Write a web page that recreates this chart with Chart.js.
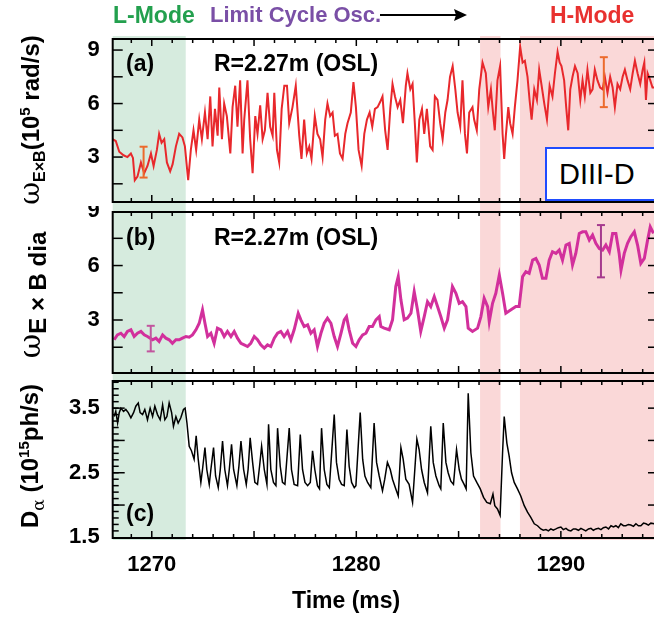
<!DOCTYPE html>
<html><head><meta charset="utf-8">
<script src="https://cdn.jsdelivr.net/npm/chart.js@4.4.1/dist/chart.umd.min.js"></script>
<style>
html,body{margin:0;padding:0;width:654px;height:617px;overflow:hidden;background:#fff;font-family:"Liberation Sans",Arial,sans-serif;}
canvas{position:absolute;left:0;}
.t{position:absolute;white-space:nowrap;font-weight:bold;z-index:5;line-height:1;}
.yt{position:absolute;white-space:nowrap;font-weight:bold;transform:rotate(-90deg);transform-origin:center center;text-align:center;z-index:5;font-size:24px;line-height:30px;height:30px;width:240px;}
.yt sub,.yt sup{line-height:0;}
.om{font-family:"DejaVu Serif",serif;font-weight:normal;}
#diii{position:absolute;left:545px;top:147px;width:130px;height:50px;border:2px solid #1f4cff;background:#fff;z-index:5;font-size:29px;line-height:50px;padding-left:12px;box-sizing:content-box;}
</style></head><body>
<canvas id="ca" width="662" height="206" style="top:0"></canvas>
<canvas id="cb" width="662" height="171" style="top:206px"></canvas>
<canvas id="cc" width="662" height="240" style="top:377px"></canvas>

<div class="t" style="left:113px;top:4px;font-size:23px;color:#23a04e">L-Mode</div>
<div class="t" style="left:210px;top:4px;font-size:22px;color:#7a4fa6">Limit Cycle Osc.</div>
<svg style="position:absolute;left:380px;top:6px;z-index:5" width="92" height="18"><line x1="0" y1="9" x2="78" y2="9" stroke="#000" stroke-width="2"/><polygon points="87,9 74,3 76,9 74,15" fill="#000"/></svg>
<div class="t" style="left:550px;top:4px;font-size:23px;color:#e8312f">H-Mode</div>

<div class="t" style="left:126px;top:52px;font-size:23px">(a)</div>
<div class="t" style="left:214px;top:52px;font-size:23px">R=2.27m (OSL)</div>
<div class="t" style="left:126px;top:226px;font-size:23px">(b)</div>
<div class="t" style="left:214px;top:226px;font-size:23px">R=2.27m (OSL)</div>
<div class="t" style="left:126px;top:502px;font-size:23px">(c)</div>
<div class="t" style="left:292px;top:589px;font-size:23px">Time (ms)</div>
<div id="diii">DIII-D</div>

<div class="yt" style="left:-90px;top:105px"><span class="om" style="font-size:28px">ω</span><sub style="font-size:16px">E×B</sub>(10<sup style="font-size:15px">5</sup> rad/s)</div>
<div class="yt" style="left:-90px;top:280px"><span class="om" style="font-size:30px">ω</span><sub style="font-size:24px">E × B dia</sub></div>
<div class="yt" style="left:-90px;top:441px">D<sub class="om" style="font-size:17px">α</sub> (10<sup style="font-size:15px">15</sup>ph/s)</div>

<script>
// ---------- data ----------
const timeA = [1268.08,1268.24,1268.41,1268.62,1268.81,1268.98,1269.08,1269.17,1269.30,1269.47,1269.63,1269.79,1269.96,1270.09,1270.25,1270.36,1270.48,1270.61,1270.74,1270.90,1271.02,1271.18,1271.34,1271.50,1271.62,1271.78,1271.91,1272.04,1272.17,1272.32,1272.45,1272.60,1272.73,1272.86,1272.97,1273.09,1273.22,1273.30,1273.43,1273.54,1273.67,1273.84,1273.95,1274.08,1274.19,1274.32,1274.44,1274.52,1274.68,1274.81,1274.93,1275.06,1275.17,1275.30,1275.42,1275.53,1275.66,1275.79,1275.91,1275.99,1276.12,1276.23,1276.35,1276.48,1276.61,1276.72,1276.88,
1277.04,1277.21,1277.32,1277.45,1277.58,1277.70,1277.81,1277.97,1278.10,1278.23,1278.35,1278.48,1278.59,1278.72,1278.84,1278.95,1279.08,1279.20,1279.33,1279.46,1279.57,1279.73,1279.86,1279.98,1280.11,1280.26,1280.39,1280.52,1280.65,1280.78,1280.91,1281.04,1281.17,1281.28,1281.41,1281.53,1281.66,1281.77,1281.89,1282.02,1282.15,1282.28,1282.42,1282.50,1282.64,1282.75,1282.86,1282.96,1283.08,1283.21,1283.32,1283.45,1283.61,1283.73,1283.84,1283.97,1284.10,1284.22,1284.35,1284.46,1284.58,1284.71,1284.84,1284.95,1285.08,1285.19,1285.31,1285.41,1285.52,1285.68,
1285.76,1285.89,1286.01,1286.17,1286.33,1286.45,1286.58,1286.68,1286.77,1286.90,1287.03,1287.15,1287.23,1287.31,1287.43,1287.52,1287.64,1287.75,1287.88,1288.01,1288.13,1288.24,1288.37,1288.47,1288.57,1288.70,1288.83,1288.94,1289.06,1289.19,1289.32,1289.45,1289.59,1289.71,1289.84,1289.94,1290.03,1290.16,1290.26,1290.36,1290.46,1290.57,1290.69,1290.82,1290.95,1291.06,1291.17,1291.30,1291.44,1291.55,1291.66,1291.79,1291.92,1292.04,1292.15,1292.28,1292.41,1292.53,1292.64,1292.77,1292.90,1293.02,1293.13,1293.26,1293.39,1293.51,1293.62,1293.75,1293.88,1294.00,1294.08,1294.16,1294.24,1294.37,1294.48,1294.60];
const omegaA = [4.0,3.9,3.3,3.1,3.0,3.2,2.95,1.7,1.9,2.7,2.1,2.5,3.2,2.5,3.4,4.3,3.8,4.0,2.7,2.2,2.6,3.6,4.3,4.1,3.6,1.7,3.4,4.5,3.4,5.1,4.0,5.5,4.0,6.4,3.6,5.7,4.2,6.9,4.0,6.0,5.3,3.2,5.8,7.0,4.7,7.3,3.2,5.1,7.3,4.0,2.1,5.3,4.3,5.9,4.0,4.5,6.6,4.7,4.2,6.6,3.4,2.7,5.7,7.0,7.0,4.9,5.8,
7.0,4.2,2.9,5.1,3.2,3.6,2.9,5.3,4.3,4.0,3.0,5.1,6.0,5.3,5.5,4.2,4.3,3.2,2.9,4.3,4.9,5.5,7.2,5.8,3.4,2.5,4.3,5.1,5.5,4.7,5.7,5.8,6.1,6.4,4.5,3.4,5.7,7.1,6.4,5.8,6.2,4.9,7.0,7.7,6.8,7.1,4.9,2.7,5.1,5.7,4.3,5.7,3.6,3.4,6.4,6.2,4.9,4.0,5.5,6.2,7.5,8.1,6.8,5.5,4.7,7.3,4.3,3.2,5.5,5.8,
5.1,4.5,6.8,8.3,7.7,5.8,6.8,5.5,4.5,7.3,8.1,4.3,2.9,4.2,5.8,4.9,4.3,5.8,7.3,9.2,8.3,8.4,7.5,6.2,5.1,6.8,6.2,7.9,7.0,6.0,5.1,7.0,6.4,7.7,8.9,8.3,8.1,7.3,5.8,4.5,6.8,7.5,8.1,7.7,6.2,7.3,6.4,7.9,6.6,6.8,7.9,7.3,6.9,6.8,7.5,6.6,7.5,6.9,5.8,7.1,6.8,7.5,7.9,7.3,6.8,7.7,8.4,7.7,7.1,7.9,8.3,6.2,7.7,7.3,6.9,6.9];

const timeB = [1268.16,1268.32,1268.49,1268.65,1268.81,1268.98,1269.14,1269.30,1269.47,1269.63,1269.79,1270.04,1270.20,1270.36,1270.53,1270.69,1270.85,1271.01,1271.18,1271.34,1271.50,1271.67,1271.83,1271.99,1272.16,1272.32,1272.48,1272.60,1272.73,1272.89,1273.05,1273.21,1273.38,1273.54,1273.70,1273.87,1274.03,1274.19,1274.36,1274.52,1274.68,1274.84,1275.01,1275.17,1275.33,1275.50,1275.66,1275.82,1275.99,1276.15,1276.31,1276.47,1276.64,1276.80,1276.96,1277.16,1277.29,1277.45,1277.62,1277.78,1277.94,1278.10,1278.27,1278.43,1278.59,1278.76,1278.92,1279.08,1279.25,1279.41,1279.52,1279.65,1279.82,1279.98,1280.14,1280.31,1280.47,1280.63,1280.79,1280.96,1281.12,
1281.20,1281.36,1281.61,1281.77,1281.93,1282.05,1282.18,1282.34,1282.50,1282.67,1282.83,1282.99,1283.15,1283.32,1283.48,1283.64,1283.81,1283.97,1284.13,1284.30,1284.46,1284.70,1284.87,1285.03,1285.19,1285.36,1285.47,1285.68,1285.93,1286.09,1286.25,1286.42,1286.50,1286.66,1286.82,1286.99,1287.15,1287.31,1287.56,1287.80,1287.96,1288.13,1288.29,1288.45,1288.62,1288.78,1288.94,1289.10,1289.27,1289.43,1289.59,1289.76,1289.92,1290.08,1290.25,1290.41,1290.57,1290.73,1290.90,1291.06,1291.22,1291.39,1291.55,1291.71,1291.88,1292.04,1292.20,1292.37,1292.53,1292.69,1292.85,1292.94,1293.10,1293.26,1293.42,1293.59,1293.75,1293.91,1294.08,1294.24,1294.37,1294.53];
const omegaB = [1.91,2.18,2.27,2.09,2.37,2.46,2.09,2.27,2.37,2.18,2.09,1.91,2.00,1.82,2.18,2.00,1.91,1.72,1.91,1.91,2.00,2.09,2.05,2.18,2.46,2.82,3.56,2.82,2.09,2.27,1.72,2.55,2.46,2.09,2.37,2.09,2.37,2.00,1.72,1.63,1.54,1.72,2.09,1.91,1.63,1.45,1.63,1.54,2.00,2.27,2.37,2.09,2.37,1.91,2.46,3.37,3.01,2.64,2.73,2.27,2.46,1.54,2.27,2.82,3.10,2.82,2.09,1.54,2.27,3.01,3.19,2.46,1.72,1.54,1.91,2.18,2.27,2.64,2.64,3.01,3.19,
2.64,2.55,2.46,3.01,4.84,5.39,4.11,3.01,3.10,3.37,4.56,3.56,2.37,3.19,4.01,3.74,4.29,3.74,3.19,2.55,3.01,4.84,4.47,3.92,4.01,3.74,2.55,2.37,2.55,3.19,4.20,3.74,2.91,3.92,4.47,5.48,4.47,3.37,3.56,3.74,3.74,5.39,5.66,5.57,6.30,6.39,6.03,5.30,5.30,6.30,6.76,6.67,6.85,6.30,7.13,7.22,6.03,6.67,7.77,7.86,7.86,7.40,7.68,7.22,6.94,6.85,7.13,6.76,7.77,7.77,6.67,5.75,6.67,7.22,7.59,7.86,7.13,6.12,6.39,7.40,8.13,7.77];

const timeC = [1268.16,1268.24,1268.33,1268.41,1268.49,1268.62,1268.73,1268.85,1268.98,1269.11,1269.22,1269.34,1269.43,1269.55,1269.66,1269.79,1269.92,1270.04,1270.15,1270.28,1270.41,1270.53,1270.64,1270.74,1270.85,1270.97,1271.06,1271.18,1271.29,1271.42,1271.55,1271.63,1271.72,1271.83,1271.94,1272.07,1272.17,1272.27,1272.40,1272.48,1272.60,1272.69,1272.81,1272.89,1273.02,1273.12,1273.25,1273.35,1273.46,1273.57,1273.70,1273.79,1273.90,1274.00,1274.16,1274.26,1274.36,1274.49,1274.62,1274.71,1274.81,1274.93,1275.04,1275.17,1275.27,1275.37,1275.50,1275.63,1275.71,1275.82,1275.95,1276.07,1276.15,1276.28,1276.39,1276.51,1276.72,1276.83,1276.96,1277.13,1277.26,1277.37,1277.49,1277.62,1277.75,1277.86,1277.97,1278.10,1278.20,1278.30,1278.43,1278.56,1278.68,1278.92,1279.03,1279.16,1279.28,1279.41,1279.54,1279.65,1279.77,1279.90,1279.98,1280.19,1280.31,1280.42,1280.55,1280.71,
1280.87,1280.99,1281.12,1281.28,1281.39,1281.52,1281.66,1281.77,1281.93,1282.05,1282.18,1282.29,1282.42,1282.58,1282.75,1282.86,1282.96,1283.07,1283.19,1283.32,1283.48,1283.64,1283.76,1283.89,1284.05,1284.13,1284.25,1284.38,1284.49,1284.62,1284.75,1284.90,1285.03,1285.14,1285.27,1285.37,1285.47,1285.60,1285.73,1285.89,1286.06,1286.22,1286.38,1286.55,1286.68,1286.77,1286.90,1287.03,1287.15,1287.23,1287.36,1287.47,1287.59,1287.72,1287.88,1288.04,1288.21,1288.37,1288.53,1288.70,1288.86,1289.02,1289.14,1289.27,1289.39,1289.51,1289.63,1289.76,1289.88,1290.00,1290.12,1290.25,1290.37,1290.49,1290.61,1290.73,1290.86,1290.98,1291.10,1291.22,1291.35,1291.47,1291.59,1291.71,1291.84,1291.96,1292.08,1292.20,1292.33,1292.45,1292.57,1292.69,1292.81,1292.93,1293.06,1293.18,1293.30,1293.42,1293.55,1293.67,1293.79,1293.91,1294.04,1294.16,1294.28,1294.40,1294.56];
const dAlpha = [3.37,3.45,3.27,3.43,3.50,3.45,3.48,3.43,3.35,3.43,3.53,3.58,3.43,3.40,3.48,3.32,3.50,3.37,3.53,3.40,3.32,3.55,3.32,3.37,3.58,3.43,3.22,3.37,3.27,3.35,3.48,3.50,3.27,2.91,2.84,2.71,3.07,2.71,2.35,2.55,2.89,2.55,2.32,2.55,2.89,2.45,2.27,2.55,2.99,2.55,2.30,2.55,2.94,2.55,2.30,2.60,2.99,2.55,2.32,2.55,3.04,2.66,2.35,2.32,2.60,2.91,2.55,2.32,3.25,2.55,2.35,2.30,3.19,2.60,2.35,2.32,3.19,2.55,2.32,2.30,3.09,2.55,2.35,2.30,2.35,2.84,2.55,2.30,2.25,3.19,2.55,2.32,2.27,3.40,2.66,2.40,2.32,2.30,3.17,2.60,2.35,2.27,2.30,3.43,2.71,2.45,2.35,2.27,
3.27,2.66,2.45,2.22,2.40,2.66,2.55,2.40,2.25,2.14,2.89,2.71,2.40,2.32,2.04,2.55,3.02,2.86,2.55,2.35,2.19,3.22,2.66,2.45,2.30,2.25,3.27,2.66,2.50,2.37,2.32,2.86,2.55,2.40,2.32,2.25,3.73,2.81,2.45,2.35,2.25,2.12,2.04,2.02,2.17,1.99,1.94,1.84,2.81,3.37,2.96,2.76,2.50,2.35,2.25,2.14,1.99,1.89,1.81,1.71,1.68,1.63,1.61,1.62,1.60,1.63,1.61,1.63,1.65,1.66,1.62,1.64,1.61,1.60,1.63,1.63,1.61,1.64,1.62,1.60,1.63,1.64,1.61,1.63,1.64,1.62,1.65,1.66,1.63,1.68,1.66,1.68,1.65,1.71,1.68,1.68,1.70,1.69,1.67,1.71,1.68,1.68,1.72,1.71,1.69,1.72,1.71];

// error bars (time, low, high)
const errA = {t:[1269.6,1292.1], lo:[1.85,5.8], hi:[3.58,8.6]};
const errB = {t:[1269.95,1291.96], lo:[1.27,5.35], hi:[2.68,8.23]};

// phase boundaries (ms)
const lModeEnd = 1271.66, lcoHStart = 1286.05, lcoHEnd = 1287.05, hModeStart = 1288.0;
const xLabels = [1270,1280,1290];
const yLabelsAB = [3,6,9];
const yLabelsC = [1.5,2.5,3.5];

// ---------- layout ----------
const X_MIN = 1268.09, X_MAX = 1294.70;
const GREEN = 'rgb(214,235,222)', PINK = 'rgb(250,216,216)';
const bands = [[X_MIN,lModeEnd,GREEN],[lcoHStart,lcoHEnd,PINK],[hModeStart,X_MAX,PINK]];
Chart.defaults.font.family = '"Liberation Sans", Arial, sans-serif';
Chart.defaults.color = '#000';

function pts(t,v){return t.map((x,i)=>({x:x,y:v[i]}));}

function framePlugin(cfg){
  return {
    id:'frame',
    beforeDraw(chart){
      const {ctx, chartArea:ca, scales:{x}} = chart;
      ctx.save();
      for (const [a,b,col] of bands){
        const x0 = Math.max(ca.left, x.getPixelForValue(a));
        const x1 = Math.min(chart.width, x.getPixelForValue(b));
        ctx.fillStyle = col;
        ctx.fillRect(x0, cfg.shadeTop, x1-x0, cfg.shadeBottom-cfg.shadeTop);
      }
      ctx.restore();
    },
    afterDraw(chart){
      const {ctx, chartArea:ca, scales:{x,y}} = chart;
      ctx.save();
      ctx.strokeStyle = '#000'; ctx.lineWidth = 1.5;
      const seg=(x1,y1,x2,y2)=>{ctx.beginPath();ctx.moveTo(x1,y1);ctx.lineTo(x2,y2);ctx.stroke();};
      for (let t=Math.ceil(X_MIN); t<=X_MAX; t++){
        const px = x.getPixelForValue(t);
        const L = (t%5===0)?7:4;
        seg(px,ca.top,px,ca.top+L); seg(px,ca.bottom,px,ca.bottom-L);
      }
      if (cfg.minorStep){
        for (let v=cfg.yMin; v<=cfg.yMax+1e-9; v+=cfg.minorStep){
          const py = y.getPixelForValue(v);
          if (py<ca.top+1||py>ca.bottom-1) continue;
          seg(ca.left,py,ca.left+cfg.minorLen,py);
        }
      }
      for (let v=cfg.yMin; v<=cfg.yMax+1e-9; v+=cfg.majorStep){
        const py = y.getPixelForValue(v);
        if (py<ca.top+1||py>ca.bottom-1) continue;
        seg(ca.left,py,ca.left+cfg.majorLen,py);
        seg(ca.right,py,ca.right-cfg.rightLen,py);
      }
      ctx.lineWidth = 2;
      ctx.strokeRect(ca.left,ca.top,ca.right-ca.left,ca.bottom-ca.top);
      if (cfg.err){
        const e = cfg.err;
        ctx.lineWidth = 2;
        e.t.forEach((t,i)=>{
          ctx.strokeStyle = cfg.errColors[i];
          const px = x.getPixelForValue(t), p0 = y.getPixelForValue(e.lo[i]), p1 = y.getPixelForValue(e.hi[i]);
          seg(px,p0,px,p1); seg(px-4,p0,px+4,p0); seg(px-4,p1,px+4,p1);
        });
      }
      ctx.restore();
    }
  };
}

function yAxis(min,max,labels,dec){
  return {min:min,max:max,position:'left',
    afterFit(s){s.width = 112.7; s.paddingTop = 0; s.paddingBottom = 0;},
    afterBuildTicks(s){s.ticks = labels.map(v=>({value:v}));},
    grid:{display:false,drawTicks:false}, border:{display:false},
    ticks:{font:{size:22,weight:'bold'},color:'#000',padding:13,autoSkip:false,callback:v=>v.toFixed(dec)}};
}
const baseOpts = {responsive:false,animation:false,devicePixelRatio:1,
  plugins:{legend:{display:false},tooltip:{enabled:false}},
  elements:{point:{radius:0},line:{tension:0}}};

new Chart(document.getElementById('ca'),{type:'line',
  data:{datasets:[{data:pts(timeA,omegaA),borderColor:'#e8282c',borderWidth:2}]},
  options:Object.assign({},baseOpts,{layout:{padding:{left:0,right:5,top:39,bottom:4}},
    scales:{x:{type:'linear',min:X_MIN,max:X_MAX,display:false},y:yAxis(0.48,9.62,yLabelsAB,0)}}),
  plugins:[framePlugin({shadeTop:36,shadeBottom:206,yMin:0,yMax:10.5,majorStep:1.5,majorLen:10,rightLen:9,err:errA,errColors:['#ec6a2c','#ec6a2c']})]});

new Chart(document.getElementById('cb'),{type:'line',
  data:{datasets:[{data:pts(timeB,omegaB),borderColor:'#d2309c',borderWidth:3}]},
  options:Object.assign({},baseOpts,{layout:{padding:{left:0,right:5,top:6,bottom:4}},
    scales:{x:{type:'linear',min:X_MIN,max:X_MAX,display:false},y:yAxis(0.08,8.95,yLabelsAB,0)}}),
  plugins:[framePlugin({shadeTop:0,shadeBottom:171,yMin:0,yMax:10.5,majorStep:1.5,majorLen:10,rightLen:9,err:errB,errColors:['#c2559e','#a53a8e']})]});

new Chart(document.getElementById('cc'),{type:'line',
  data:{datasets:[{data:pts(timeC,dAlpha),borderColor:'#000',borderWidth:1.5}]},
  options:Object.assign({},baseOpts,{layout:{padding:{left:0,right:5,top:4,bottom:0}},
    scales:{
      x:{type:'linear',min:X_MIN,max:X_MAX,position:'bottom',
        afterFit(s){s.height = 79; s.paddingLeft = 0; s.paddingRight = 0;},
        afterBuildTicks(s){s.ticks = xLabels.map(v=>({value:v}));},
        grid:{display:false,drawTicks:false},border:{display:false},
        ticks:{font:{size:22,weight:'bold'},color:'#000',padding:14,maxRotation:0,autoSkip:false,callback:v=>String(v)},
        title:{display:false}},
      y:yAxis(1.49,3.92,yLabelsC,1)}}),
  plugins:[framePlugin({shadeTop:0,shadeBottom:163,yMin:1.5,yMax:4.0,majorStep:0.5,majorLen:12,rightLen:9,minorStep:0.1,minorLen:6})]});
</script>
</body></html>
